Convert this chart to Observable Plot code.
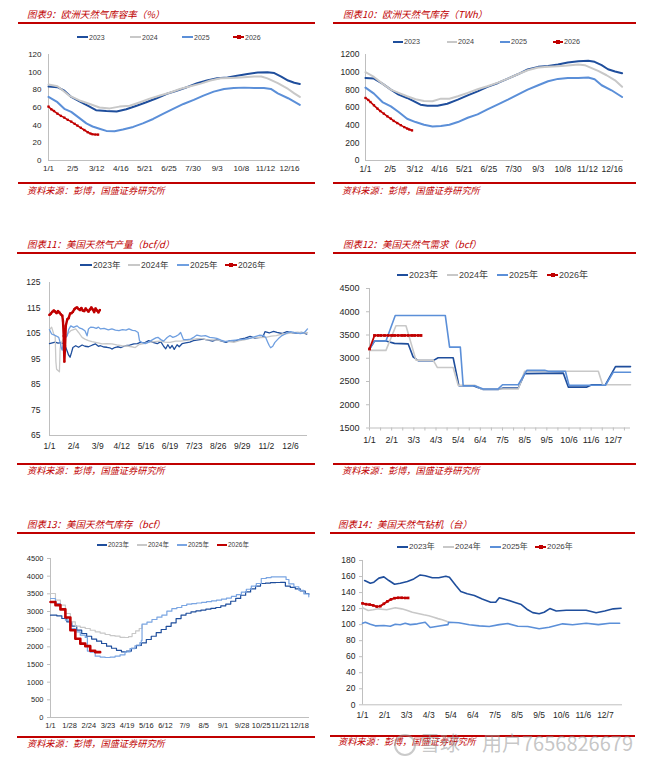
<!DOCTYPE html>
<html><head><meta charset="utf-8">
<script src="https://cdn.jsdelivr.net/npm/d3@7"></script>
<script src="https://cdn.jsdelivr.net/npm/@observablehq/plot@0.6"></script>
<style>
body{margin:0;background:#fff;}
#page{position:relative;width:650px;height:762px;overflow:hidden;font-family:Arial,"Liberation Sans",sans-serif;background:#fff;}
.t{position:absolute;white-space:nowrap;line-height:1;transform:translateY(-50%);}
.title{font-family:"Noto Sans CJK SC",sans-serif;font-style:italic;color:#c00000;font-size:9.5px;}
.src{font-family:"Noto Sans CJK SC",sans-serif;font-style:italic;color:#c00000;font-size:9.2px;}
.rule{position:absolute;height:2px;background:#c00000;}
.leg{color:#404040;font-family:Arial,"Liberation Sans","Noto Sans CJK SC",sans-serif;}
.wm{position:absolute;font-family:"Noto Sans CJK SC",sans-serif;color:rgba(150,150,150,0.55);font-size:20px;line-height:1;white-space:nowrap;}
</style></head><body><div id="page"></div>
<script>
// ---------- colours ----------
const C23 = "#1f4e9c", C24 = "#c8c8c8", C25 = "#5b8fd8", C25L = "#6f9fe0", C26 = "#c00000";

// ---------- tick labels ----------
const lblEU = ["1/1","2/5","3/12","4/16","5/21","6/25","7/30","9/3","10/8","11/12","12/16"];
const lblProd = ["1/1","2/4","3/9","4/12","5/16","6/19","7/23","8/26","9/29","11/2","12/6"];
const lblMonth = ["1/1","2/1","3/3","4/3","5/4","6/4","7/5","8/5","9/5","10/6","11/6","12/7"];
const lblStor = ["1/1","1/28","2/24","3/23","4/19","5/16","6/12","7/9","8/5","9/1","9/28","10/25","11/21","12/18"];

// ---------- 图表9 欧洲天然气库容率 (%)  [day of year, value] ----------
const eu_pct_2023 = [[0,83.8],[13,83],[23,79],[33,72],[45,67],[57,62],[69,57],[84,56],[99,55.5],[113,58],[128,62],[142,66],[157,70.5],[172,75.5],[186,79],[201,83],[216,87.5],[230,90.5],[245,93],[260,94],[274,96],[289,98],[304,99.6],[318,100],[328,99],[338,95],[348,90.5],[357,88],[365,86.5]];
const eu_pct_2024 = [[0,86],[13,84],[30,73.5],[45,68],[60,64],[74,60],[89,59],[103,61],[118,62],[133,66],[147,70],[162,73.5],[177,77],[191,81],[206,84],[221,87],[235,90.5],[250,93],[265,93.5],[279,94],[299,95],[309,95],[318,93],[333,87.5],[348,81],[357,76],[365,72]];
const eu_pct_2025 = [[0,72],[13,66],[23,58.5],[33,55],[45,48],[55,42],[64,38.5],[74,36],[84,33.5],[96,33],[108,35],[123,38],[137,42],[152,47],[167,53],[181,58.5],[196,64],[211,68.7],[225,73.5],[240,78],[255,81],[269,82],[284,82.5],[299,82],[313,82],[323,81],[333,76],[348,70.5],[365,63]];
const eu_pct_2026 = [[0,61],[4,58],[8,56],[13,53],[18,50.5],[23,48.5],[28,46],[33,44],[38,41.5],[42,39.5],[47,37],[52,34.5],[57,32],[61,30.5],[64,29.7],[68,29.4],[72,29.3]];

// ---------- 图表10 欧洲天然气库存 (TWh) ----------
const eu_twh_2023 = [[0,935],[12,927],[24,870],[36,802],[47,745],[59,708],[69,670],[78,632],[88,621],[102,621],[116,643],[131,689],[145,738],[159,783],[173,833],[188,878],[202,927],[216,976],[230,1030],[245,1060],[259,1071],[273,1086],[287,1109],[302,1124],[316,1128],[325,1117],[335,1079],[344,1033],[354,1007],[364,988]];
const eu_twh_2024 = [[0,1000],[12,946],[24,870],[36,802],[47,765],[59,727],[71,693],[83,674],[95,670],[107,700],[119,700],[131,727],[145,765],[159,806],[173,840],[188,882],[202,927],[216,976],[230,1022],[245,1052],[259,1060],[273,1067],[287,1075],[302,1086],[311,1079],[320,1048],[330,1014],[342,965],[354,908],[364,835]];
const eu_twh_2025 = [[0,825],[12,757],[24,662],[36,613],[47,549],[59,473],[71,435],[83,405],[95,386],[107,390],[119,405],[131,435],[145,484],[159,522],[173,579],[188,636],[202,689],[216,746],[230,802],[245,852],[259,897],[273,924],[287,935],[302,935],[316,939],[325,920],[335,852],[349,795],[364,719]];
const eu_twh_2026 = [[0,708],[4,685],[7,662],[12,625],[17,587],[21,560],[26,530],[31,500],[36,473],[40,448],[45,424],[50,400],[55,378],[59,362],[62,352],[66,341]];

// ---------- 图表11 美国天然气产量 (bcf/d) ----------
const us_prod_2023 = [[0,101],[4,101.3],[8,101.6],[12,101.2],[16,101.4],[20,101],[23,99.5],[25,98],[27,96.5],[29,95.7],[31,97.5],[33,99.5],[37,100.2],[41,99.6],[46,100.5],[50,100],[55,99.8],[60,100.4],[65,100.9],[69,100],[72,100.2],[77,99.7],[81,99.6],[85,99.4],[88,98.9],[92,99.5],[96,99.8],[101,99.5],[107,100.2],[113,100.4],[119,100.9],[124,101],[128,101.5],[134,101.3],[140,102.2],[146,101.5],[152,101],[157,101.8],[161,100],[164,99],[167,100.6],[170,99.2],[173,100.3],[176,98.8],[180,100.6],[183,99.8],[187,101],[192,101.3],[198,101.6],[203,102.2],[210,102.5],[217,102.8],[224,102.4],[230,102],[236,102.6],[243,102],[249,101.5],[255,102.2],[262,102],[269,102.8],[276,103.2],[283,103.9],[290,103.2],[297,103.5],[301,103.6],[304,105.7],[310,105.2],[316,105.8],[321,105.4],[328,105],[335,105.7],[342,105.3],[349,105.2],[356,105.4],[363,104.8]];
const us_prod_2024 = [[0,106.5],[3,107.5],[6,104.8],[8,104],[9,94],[10,91],[12,90.5],[14,90],[15,99],[16,101],[19,102.5],[22,104],[26,105],[30,106.1],[34,106.5],[37,106.8],[41,105.4],[46,103.5],[50,102.8],[55,102.2],[60,101.8],[65,101.5],[70,101.2],[74,100.9],[81,101],[88,100.9],[95,100.5],[102,100.2],[109,100.1],[116,99.8],[121,99.5],[126,100.6],[133,101],[140,101.5],[148,101.8],[155,102],[163,101.6],[170,101.5],[178,102],[185,102],[193,102.3],[200,102.5],[208,103],[215,103],[222,102.5],[230,102.5],[238,102.4],[245,102],[253,101.8],[260,101.5],[268,102.2],[275,102.5],[283,103.2],[290,103.5],[298,103.4],[305,103.5],[313,104],[320,104.2],[328,104.8],[335,105],[343,105.3],[350,105.5],[358,105.2],[364,105.3]];
const us_prod_2025 = [[0,106.5],[3,104.8],[6,104.5],[9,104.1],[13,103.5],[15,101.5],[17,99],[18,98.5],[20,102.2],[23,103.5],[25,104.1],[27,106.5],[30,108],[34,107.4],[37,107.8],[39,108],[42,107.2],[46,106.8],[50,106.1],[53,104.1],[55,106.8],[58,107.5],[62,107.4],[66,107],[69,107.5],[72,106.8],[77,107],[83,106.4],[88,106.8],[93,106.3],[98,106.1],[103,106.5],[108,106.3],[112,106.8],[117,106.2],[121,106.1],[125,105.4],[127,102.2],[130,101.5],[135,101],[140,101.6],[145,102.5],[150,103.3],[153,103.5],[157,102.6],[161,102],[166,103.4],[170,104.2],[174,103.5],[178,103.9],[182,104.5],[185,105.4],[187,104],[189,102.6],[194,102.6],[199,102.8],[204,103.6],[208,104.4],[214,104],[220,104.2],[226,103.5],[232,103.3],[236,103.1],[242,102.4],[248,101.8],[255,102.2],[262,102.4],[269,102.6],[276,102.8],[283,103.1],[290,103.8],[297,104.4],[302,104.2],[305,103.4],[308,101.5],[310,100.3],[312,99.4],[315,100],[318,101.5],[323,103],[328,104.2],[334,105],[340,105.7],[345,105.4],[349,105.2],[354,105],[358,105.2],[361,105.8],[364,106.8]];
const us_prod_2026 = [[0,112.3],[2,112.8],[4,113.5],[6,114],[8,113.6],[10,113],[12,113.8],[14,113.2],[16,112.5],[18,112],[19,110],[20,104],[21,94],[22,100],[23,108],[25,110.5],[27,111],[29,112.8],[31,113],[33,113.5],[35,114.5],[37,115],[39,115.2],[41,114.6],[43,114.2],[45,115],[47,114],[49,113.8],[51,114.8],[53,114.2],[55,113.6],[57,114.4],[59,115.2],[61,114.4],[63,113.4],[65,114.8],[67,114],[69,113.3],[71,114.2]];

// ---------- 图表12 美国天然气需求 (bcf) ----------
const us_dem_2023 = [[0,3200],[7,3370],[23,3370],[35,3320],[54,3310],[61,3030],[68,2950],[89,2950],[96,3010],[117,3010],[125,2410],[145,2410],[159,2330],[180,2330],[187,2360],[208,2360],[217,2670],[271,2680],[278,2380],[304,2380],[311,2430],[330,2430],[344,2820],[365,2820]];
const us_dem_2024 = [[0,3170],[23,3170],[37,3700],[51,3700],[65,2960],[89,2960],[95,2800],[117,2800],[124,2420],[147,2420],[157,2340],[208,2340],[217,2720],[320,2720],[326,2430],[365,2430]];
const us_dem_2025 = [[0,3200],[7,3370],[23,3370],[36,3920],[106,3920],[112,3240],[127,3240],[131,2410],[147,2410],[159,2340],[180,2340],[186,2430],[208,2430],[220,2740],[245,2740],[250,2720],[274,2720],[279,2420],[330,2420],[341,2700],[365,2700]];
const us_dem_2026 = [[0,3200],[7,3490],[12,3490],[16,3490],[21,3490],[26,3490],[31,3490],[35,3490],[40,3490],[45,3490],[49,3490],[54,3490],[59,3490],[63,3490],[68,3490],[72,3490]];

// ---------- 图表13 美国天然气库存 (bcf) ----------
const us_stor_2023 = [[0,2896],[9,2876],[16,2802],[23,2707],[30,2584],[37,2471],[44,2377],[51,2300],[58,2220],[65,2160],[72,2094],[79,2020],[86,1960],[93,1900],[100,1860],[107,1880],[114,1960],[121,2040],[128,2110],[135,2207],[142,2300],[149,2400],[156,2490],[163,2580],[170,2680],[177,2800],[184,2900],[191,2950],[198,2990],[205,3017],[212,3040],[219,3065],[226,3090],[233,3113],[240,3160],[247,3210],[254,3290],[261,3370],[268,3460],[275,3555],[282,3640],[289,3720],[296,3793],[303,3805],[310,3815],[317,3821],[324,3825],[331,3720],[338,3680],[345,3640],[352,3580],[359,3509],[364,3480]];
const us_stor_2024 = [[0,3510],[7,3320],[14,3179],[21,2943],[28,2707],[35,2584],[42,2550],[49,2519],[56,2470],[63,2424],[70,2390],[77,2349],[84,2320],[91,2301],[98,2270],[105,2264],[110,2290],[115,2377],[120,2450],[125,2519],[129,2612]];
const us_stor_2025 = [[0,3368],[7,3226],[14,3085],[21,2754],[28,2519],[35,2424],[42,2329],[49,2264],[52,1880],[56,1850],[63,1735],[70,1710],[77,1698],[84,1710],[91,1735],[98,1775],[105,1857],[112,1950],[119,2030],[126,2120],[128,2180],[129,2641],[136,2700],[143,2774],[150,2840],[157,2896],[164,3009],[171,3080],[178,3113],[185,3170],[192,3207],[199,3225],[206,3240],[213,3260],[220,3280],[227,3300],[234,3320],[241,3350],[248,3380],[255,3430],[262,3480],[269,3550],[276,3630],[283,3716],[290,3793],[297,3934],[304,3960],[311,3980],[318,3980],[325,3980],[332,3906],[336,3780],[343,3700],[350,3600],[357,3500],[364,3414]];
const us_stor_2026 = [[0,3270],[7,3180],[14,3060],[21,2830],[28,2470],[35,2230],[42,2090],[49,2020],[56,1890],[63,1850],[70,1850]];

// ---------- 图表14 美国天然气钻机 (台) ----------
const us_rig_2023 = [[3,155],[11,151.7],[16,153],[23,158],[30,159.6],[37,155],[45,150.4],[53,151.7],[63,153.8],[72,157],[81,162],[88,161],[98,158.4],[107,158.4],[117,160.4],[122,159],[131,148.8],[138,141.3],[147,138.5],[157,136.3],[168,132],[180,128],[187,128],[192,133.5],[201,131.4],[213,128],[223,125],[232,118.5],[239,115],[248,113.5],[255,115.5],[263,120],[272,117],[286,118],[314,118],[328,114.8],[340,117],[352,119.7],[363,120.5]];
const us_rig_2024 = [[0,121],[8,117.6],[15,118.5],[22,119.7],[34,118.5],[46,121],[55,119.7],[62,118],[70,115.5],[78,114],[86,112.3],[93,111],[100,109.3],[106,107.5],[112,106],[117,104.5],[121,103]];
const us_rig_2025 = [[0,101.8],[4,103],[11,100.5],[18,98.5],[30,99],[39,98],[46,100.5],[53,99.8],[60,101.8],[67,100],[77,101],[88,103],[95,96.4],[110,98.5],[120,100],[121,103],[135,102.3],[150,99.8],[164,98.5],[178,97.7],[192,100],[204,101.4],[218,98],[232,97.7],[248,94.8],[262,96.8],[281,101],[295,99.8],[314,101.8],[331,100],[347,101.8],[361,101.8]];
const us_rig_2026 = [[0,126.5],[5,125.5],[10,125],[15,124],[20,122.5],[25,123],[30,126],[35,129],[40,131.5],[45,133],[50,133.5],[55,133.5],[60,133.3],[64,133.3]];

const SRC = "资料来源：彭博，国盛证券研究所";

const panels = [
 {title:"图表9：欧洲天然气库容率（%）", tx:27, ty:15, rule:[18,315,23], srcRule:[18,315,183], sx:27, sy:191,
  plot:{x0:48,x1:300,y0:54,y1:160}, xd:[0,366], yd:[0,120], ys:20, labels:lblEU, xs:35,
  yTick:0, yPad:7, xTick:0, xPad:5, fs:8, minor:false,
  leg:{y:37, xs:[77,130,182,233], len:11, fs:7, suf:""},
  series:[{d:eu_pct_2023,c:C23,w:2},{d:eu_pct_2024,c:C24,w:2},{d:eu_pct_2025,c:C25,w:2},{d:eu_pct_2026,c:C26,w:1.6,m:1.3}]},
 {title:"图表10：欧洲天然气库存（TWh）", tx:343, ty:15, rule:[333,636,23], srcRule:[333,636,183], sx:342, sy:191,
  plot:{x0:365,x1:623,y0:54,y1:160}, xd:[0,366], yd:[0,1200], ys:200, labels:lblEU, xs:35,
  yTick:0, yPad:6, xTick:0, xPad:5, fs:8.5, minor:false,
  leg:{y:42, xs:[393,447,500,553], len:10, fs:7.2, suf:""},
  series:[{d:eu_twh_2023,c:C23,w:2},{d:eu_twh_2024,c:C24,w:2},{d:eu_twh_2025,c:C25,w:2},{d:eu_twh_2026,c:C26,w:1.6,m:1.3}]},
 {title:"图表11：美国天然气产量（bcf/d）", tx:27, ty:245, rule:[17,315,253], srcRule:[17,315,464], sx:27, sy:471,
  plot:{x0:49,x1:307,y0:282,y1:435}, xd:[0,364], yd:[65,125], ys:10, labels:lblProd, xs:34,
  yTick:0, yPad:9, xTick:0, xPad:7.5, fs:8.5, minor:false,
  leg:{y:265, xs:[80,128,177,225], len:12, fs:8.5, suf:"年"},
  series:[{d:us_prod_2023,c:C23,w:1.3},{d:us_prod_2024,c:C24,w:1.3},{d:us_prod_2025,c:C25L,w:1.3},{d:us_prod_2026,c:C26,w:2.4,m:1.2}]},
 {title:"图表12：美国天然气需求（bcf）", tx:343, ty:245, rule:[333,636,253], srcRule:[333,636,464], sx:342, sy:471,
  plot:{x0:369,x1:630,y0:288,y1:427.5}, xd:[0,365], yd:[1500,4500], ys:500, labels:lblMonth, xs:31,
  yTick:3, yPad:7, xTick:3, xPad:6, fs:9, minor:true,
  leg:{y:275, xs:[397,447,497,547], len:11, fs:9, suf:"年"},
  series:[{d:us_dem_2023,c:C23,w:1.6},{d:us_dem_2024,c:C24,w:1.6},{d:us_dem_2025,c:C25,w:1.6},{d:us_dem_2026,c:C26,w:1.8,m:1.6}]},
 {title:"图表13：美国天然气库存（bcf）", tx:27, ty:525, rule:[17,315,533], srcRule:[17,315,737], sx:27, sy:744,
  plot:{x0:50,x1:309,y0:558.3,y1:717.3}, xd:[0,365], yd:[0,4500], ys:500, labels:lblStor, xs:27,
  yTick:3, yPad:4, xTick:0, xPad:5.5, fs:7.5, minor:false,
  leg:{y:545, xs:[97,137,177,217], len:10, fs:6.5, suf:"年"},
  series:[{d:us_stor_2023,c:C23,w:1.2,cv:"step-after"},{d:us_stor_2024,c:C24,w:1.2,cv:"step-after"},{d:us_stor_2025,c:"#7aa5e2",w:1.2,cv:"step-after"},{d:us_stor_2026,c:C26,w:2.6,cv:"step-after"}]},
 {title:"图表14：美国天然气钻机（台）", tx:338, ty:525, rule:[330,635,533], srcRule:[330,635,736], sx:338, sy:742,
  plot:{x0:362,x1:622,y0:560,y1:704.3}, xd:[0,365], yd:[0,180], ys:20, labels:lblMonth, xs:31,
  yTick:3, yPad:4, xTick:0, xPad:7, fs:8.5, minor:false,
  leg:{y:547, xs:[397,443,490,535], len:11, fs:8, suf:"年"},
  series:[{d:us_rig_2023,c:C23,w:1.6},{d:us_rig_2024,c:C24,w:1.6},{d:us_rig_2025,c:C25,w:1.6},{d:us_rig_2026,c:C26,w:2,m:1.5}]}
];
const YEARS = ["2023","2024","2025","2026"];

const page = document.getElementById("page");
function addText(cls, txt, x, y, extra){
  const e = document.createElement("div"); e.className = "t " + cls; e.textContent = txt;
  e.style.left = x + "px"; e.style.top = y + "px";
  if (extra) Object.assign(e.style, extra);
  page.appendChild(e); return e;
}
function addRule(x0, x1, y){
  const e = document.createElement("div"); e.className = "rule";
  e.style.left = x0 + "px"; e.style.width = (x1 - x0) + "px"; e.style.top = (y - 1) + "px";
  page.appendChild(e);
}
function addBox(x, y, w, h, bg){
  const e = document.createElement("div");
  Object.assign(e.style, {position:"absolute", left:x+"px", top:y+"px", width:w+"px", height:h+"px", background:bg});
  page.appendChild(e);
}

for (const p of panels){
  addText("title", p.title, p.tx, p.ty);
  addRule(p.rule[0], p.rule[1], p.rule[2]);
  addRule(p.srcRule[0], p.srcRule[1], p.srcRule[2]);
  addText("src", SRC, p.sx, p.sy);
  // legend
  p.series.forEach((s, i) => {
    const lx = p.leg.xs[i];
    addBox(lx, p.leg.y - 1, p.leg.len, 2, s.c);
    if (s.m) addBox(lx + p.leg.len/2 - 2, p.leg.y - 2, 4, 4, s.c);
    addText("leg", YEARS[i] + p.leg.suf, lx + p.leg.len + 1, p.leg.y, {fontSize: p.leg.fs + "px"});
  });
  // plot
  const mL = 36, mR = 8, mT = 8, mB = 22;
  const W = p.plot.x1 - p.plot.x0 + mL + mR;
  const H = p.plot.y1 - p.plot.y0 + mT + mB;
  const step = p.minor ? p.xs / 2 : p.xs;
  const nT = p.minor ? p.labels.length * 2 : p.labels.length;
  const xt = d3.range(nT).map(i => i * step).filter(v => v <= p.xd[1]);
  const fmtX = d => { const k = Math.round(d / p.xs); return Math.abs(k * p.xs - d) < 1e-6 && p.labels[k] !== undefined ? p.labels[k] : ""; };
  const yt = d3.range(p.yd[0], p.yd[1] + p.ys / 2, p.ys);
  const marks = [
    Plot.ruleX([p.xd[0]], {stroke: "#bfbfbf", strokeWidth: 1}),
    Plot.ruleY([p.yd[0]], {stroke: "#bfbfbf", strokeWidth: 1}),
    Plot.axisY({ticks: yt, tickFormat: d => String(d), tickSize: p.yTick, tickPadding: p.yPad, stroke: "#bfbfbf", fill: "#262626", label: null, fontSize: p.fs}),
    Plot.axisX({ticks: xt, tickFormat: fmtX, tickSize: p.xTick, tickPadding: p.xPad, stroke: "#bfbfbf", fill: "#262626", label: null, fontSize: p.fs})
  ];
  for (const s of p.series){
    marks.push(Plot.line(s.d, {x: d => d[0], y: d => d[1], stroke: s.c, strokeWidth: s.w, curve: s.cv || "linear", strokeLinejoin: "round"}));
    if (s.m) marks.push(Plot.dot(s.d, {x: d => d[0], y: d => d[1], symbol: "square", r: s.m, fill: s.c, stroke: "none"}));
  }
  const svg = Plot.plot({
    width: W, height: H, marginLeft: mL, marginRight: mR, marginTop: mT, marginBottom: mB,
    x: {domain: p.xd}, y: {domain: p.yd},
    style: {fontSize: p.fs + "px", fontFamily: "Arial, 'Liberation Sans', sans-serif", background: "transparent", overflow: "visible", color: "#262626"},
    marks
  });
  svg.style.position = "absolute";
  svg.style.left = (p.plot.x0 - mL) + "px";
  svg.style.top = (p.plot.y0 - mT) + "px";
  page.appendChild(svg);
}

// watermark
const ring = document.createElement("div");
Object.assign(ring.style, {position:"absolute", left:"394px", top:"734px", width:"18px", height:"18px", border:"2px solid rgba(150,150,150,0.5)", borderRadius:"50%"});
page.appendChild(ring);
const w1 = document.createElement("div"); w1.className = "wm"; w1.textContent = "雪球";
Object.assign(w1.style, {left:"420px", top:"733px"}); page.appendChild(w1);
const w2 = document.createElement("div"); w2.className = "wm"; w2.textContent = "用户7656826679";
Object.assign(w2.style, {left:"482px", top:"733px"}); page.appendChild(w2);
</script></body></html>
